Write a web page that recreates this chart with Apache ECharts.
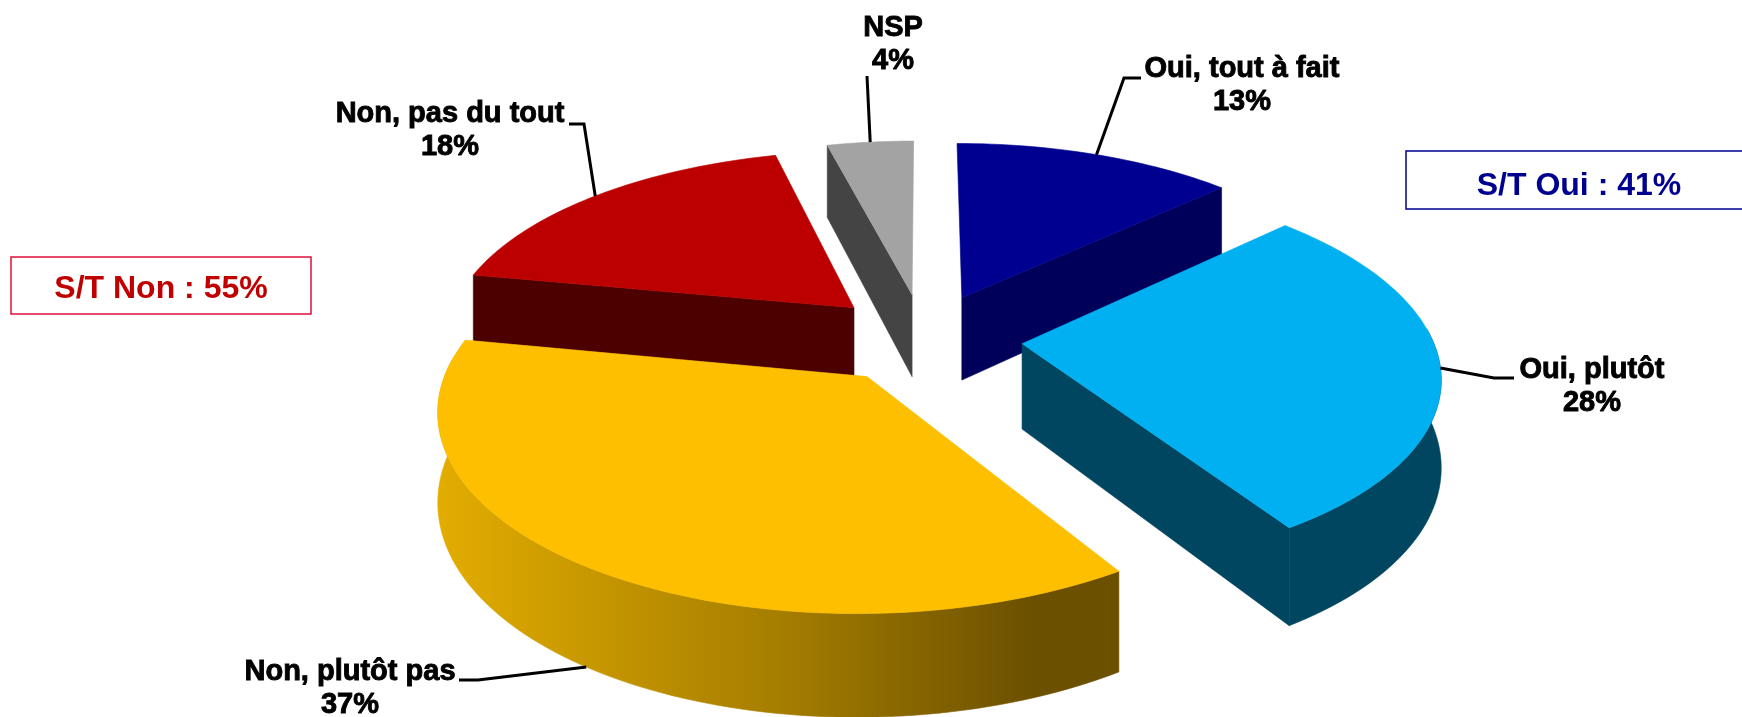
<!DOCTYPE html>
<html>
<head>
<meta charset="utf-8">
<title>Pie</title>
<style>
  html, body { margin: 0; padding: 0; background: #fff; }
  #chart { width: 1742px; height: 717px; }
</style>
</head>
<body>
<div id="chart"></div>
<script src="https://cdn.jsdelivr.net/npm/echarts@6/dist/echarts.min.js"></script>
<script>
// clockwise from 12 o'clock
const categories = ['Oui, tout à fait', 'Oui, plutôt', 'Non, plutôt pas', 'Non, pas du tout', 'NSP'];
const values = [13, 28, 37, 18, 4];
const topColors = ['#000090', '#00B0F0', '#FDBF00', '#BC0000', '#A3A3A3'];
const sideColors = ['#00005A', '#004660', '#6B5000', '#4D0000', '#444444'];

// fake 3D camera, fitted by eye on the reference
const CX = 924, CY = 338, R = 410, TILT = 0.46, PERSP = 0.15, DEPTH = 85, EXPLODE = 0.24;

// label centre, then leader elbows (arc point comes from the projection)
const labelPos = [[1242, 69], [1592, 370], [350, 672], [450, 114], [893, 28]];
const leaderBends = [
  [[1124, 78], [1141, 78]],
  [[1494, 378], [1514, 378]],
  [[478, 680], [459, 680]],
  [[584, 124], [569, 124]],
  [[867, 76]]
];

const total = values.reduce((a, b) => a + b, 0);
const startAngles = [];
values.reduce((acc, v, i) => { startAngles[i] = acc / total * Math.PI * 2; return acc + v; }, 0);

const project = (x, z, down) => {
  const s = 1 / (1 + PERSP * z);
  return [CX + x * R * s, CY - z * R * TILT * s + (down ? DEPTH * s : 0)];
};

const buildSlice = (i) => {
  const a0 = startAngles[i];
  const a1 = a0 + values[i] / total * Math.PI * 2;
  const mid = (a0 + a1) / 2;
  const ox = Math.sin(mid) * EXPLODE;
  const oz = Math.cos(mid) * EXPLODE;
  const rim = (a, down) => project(ox + Math.sin(a), oz + Math.cos(a), down);
  const steps = Math.max(6, Math.round((a1 - a0) * 40));
  const arcTop = [], arcBottom = [], wallTop = [], wallBottom = [];
  for (let k = 0; k <= steps; k++) {
    const a = a0 + (a1 - a0) * k / steps;
    arcTop.push(rim(a, false));
    arcBottom.push(rim(a, true));
    // only the part of the outer wall that faces the viewer
    if (Math.cos(a) < 0.1) {
      wallTop.push(rim(a, false));
      wallBottom.push(rim(a, true));
    }
  }
  const centerTop = project(ox, oz, false);
  const centerBottom = project(ox, oz, true);

  const poly = (points, fill) => ({
    type: 'polygon',
    shape: { points },
    style: { fill, stroke: fill, lineWidth: 0.6 }
  });
  const sideFill = i === 2 ? {
    type: 'linear', x: 440, y: 0, x2: 1114, y2: 0, global: true,
    colorStops: [
      { offset: 0, color: '#E2AC00' },
      { offset: 0.5, color: '#A67E00' },
      { offset: 0.88, color: '#6B5000' },
      { offset: 1, color: '#6B5000' }
    ]
  } : sideColors[i];

  const children = [];
  if (wallTop.length > 1) {
    children.push(poly(wallTop.concat(wallBottom.slice().reverse()), sideFill));
  }
  if (Math.sin(a0) < -0.001) {
    children.push(poly([centerTop, arcTop[0], arcBottom[0], centerBottom], sideColors[i]));
  }
  if (Math.sin(a1) > 0.001) {
    children.push(poly([centerTop, arcTop[steps], arcBottom[steps], centerBottom], sideColors[i]));
  }
  children.push(poly([centerTop].concat(arcTop), topColors[i]));
  return { children, mid, rim };
};

// leaders and labels go on top of every slice
const buildLabel = (i, slice) => {
  const a = slice.mid;
  const start = slice.rim(a, Math.cos(a) < -0.5);
  const [lx, ly] = labelPos[i];
  const textStyle = {
    fill: '#000', stroke: '#000', lineWidth: 0.9,
    font: 'bold 29px "Liberation Sans", Arial, sans-serif',
    align: 'center', verticalAlign: 'middle'
  };
  return [
    {
      type: 'polyline',
      shape: { points: [start].concat(leaderBends[i]) },
      style: { fill: null, stroke: '#000', lineWidth: 3 },
      z2: 100
    },
    { type: 'text', x: lx, y: ly, style: { text: categories[i], ...textStyle }, z2: 100 },
    { type: 'text', x: lx, y: ly + 33, style: { text: values[i] + '%', ...textStyle }, z2: 100 }
  ];
};

// painter's order: far slices first
const paintOrder = values.map((v, i) => i).sort((a, b) =>
  Math.cos(startAngles[b] + values[b] / total * Math.PI) - Math.cos(startAngles[a] + values[a] / total * Math.PI));

const chart = echarts.init(document.getElementById('chart'));
chart.setOption({
  animation: false,
  series: [{
    type: 'custom',
    coordinateSystem: 'none',
    silent: true,
    data: paintOrder.map((i) => [i, values[i]]),
    renderItem: (params, api) => {
      const i = api.value(0);
      const slice = buildSlice(i);
      return { type: 'group', children: slice.children.concat(buildLabel(i, slice)) };
    }
  }],
  graphic: [
    {
      type: 'group',
      children: [
        { type: 'rect', shape: { x: 11, y: 257, width: 300, height: 57 }, style: { fill: '#fff', stroke: '#E0103A', lineWidth: 1.5 } },
        { type: 'text', x: 161, y: 289, style: { text: 'S/T Non : 55%', fill: '#C00000', font: 'bold 32px "Liberation Sans", Arial, sans-serif', align: 'center', verticalAlign: 'middle' } },
        { type: 'rect', shape: { x: 1406, y: 151, width: 345, height: 58 }, style: { fill: '#fff', stroke: '#000090', lineWidth: 1.5 } },
        { type: 'text', x: 1579, y: 186, style: { text: 'S/T Oui : 41%', fill: '#000090', font: 'bold 32px "Liberation Sans", Arial, sans-serif', align: 'center', verticalAlign: 'middle' } }
      ]
    }
  ]
});

window.addEventListener('resize', () => chart.resize());
</script>
</body>
</html>
